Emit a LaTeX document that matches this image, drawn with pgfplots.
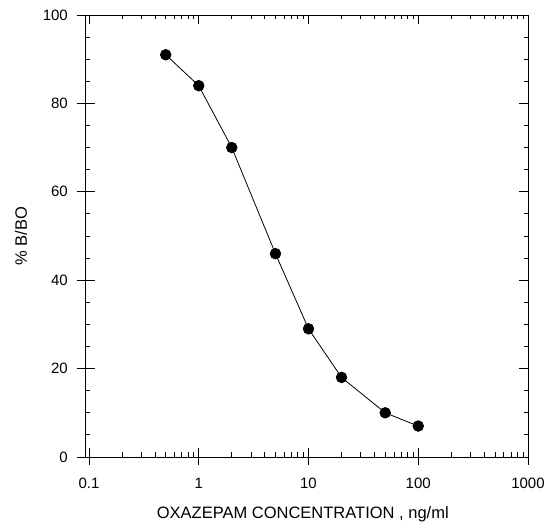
\documentclass[border=0pt]{standalone}
\usepackage{pgfplots}
\pgfplotsset{compat=1.18}
\usepackage{fontspec}
\setmainfont{Liberation Sans}
\begin{document}
\fontsize{15pt}{18pt}\selectfont
\begin{tikzpicture}
\path[use as bounding box] (-89pt,-70pt) rectangle (458pt,457pt);
% x range box: top, bottom and right lines, inward ticks, data
\begin{semilogxaxis}[
  at={(0pt,0pt)}, anchor=south west,
  width=439pt, height=442pt, scale only axis,
  xmin=0.1, xmax=1000, ymin=0, ymax=100,
  ytick={0,20,...,100},
  minor y tick num=3,
  axis x line*=box, axis y line*=right,
  tick align=inside,
  major tick length=9pt, minor tick length=4.5pt,
  xticklabels={}, yticklabels={},
  axis line style={line width=0.9pt, -},
  every tick/.style={black, line width=0.8pt},
  clip=false,
]
\addplot[black, line width=0.8pt, mark=*, mark size=5.3pt] coordinates {
  (0.5,91) (1,84) (2,70) (5,46) (10,29) (20,18) (50,10) (100,7)
};
\end{semilogxaxis}
% outward part of bottom major ticks, labels
\begin{semilogxaxis}[
  at={(0pt,0pt)}, anchor=south west,
  width=439pt, height=442pt, scale only axis,
  xmin=0.1, xmax=1000, ymin=0, ymax=100,
  xtick={0.1,1,10,100,1000},
  xticklabels={0.1,1,10,100,1000},
  axis x line*=bottom, axis y line=none,
  tick align=outside, major tick length=8pt,
  minor x tick num=0, minor tick length=0pt,
  axis line style={draw=none},
  every tick/.style={black, line width=0.8pt},
  xticklabel style={anchor=north, inner sep=0pt},
  xticklabel shift=13pt,
  xlabel={OXAZEPAM CONCENTRATION , ng/ml},
  xlabel style={at={(axis description cs:0.487,-0.129)}, anchor=center,
    font=\fontsize{16.5pt}{19pt}\selectfont},
]
\end{semilogxaxis}
% left y axis, a little apart from the x range
\begin{axis}[
  at={(-4pt,0pt)}, anchor=south west,
  width=439pt, height=442pt, scale only axis,
  xmin=0, xmax=1, ymin=0, ymax=100,
  ytick={0,20,...,100},
  minor y tick num=3,
  axis y line*=left, axis x line=none,
  tick align=inside,
  major tick length=10pt, minor tick length=5pt,
  yticklabels={},
  axis line style={line width=0.9pt, -},
  every tick/.style={black, line width=0.8pt},
]
\end{axis}
\begin{axis}[
  at={(-4pt,0pt)}, anchor=south west,
  width=439pt, height=442pt, scale only axis,
  xmin=0, xmax=1, ymin=0, ymax=100,
  ytick={0,20,...,100},
  axis y line*=left, axis x line=none,
  tick align=outside, major tick length=8pt,
  minor tick length=0pt,
  axis line style={draw=none},
  every tick/.style={black, line width=0.8pt},
  /pgf/number format/assume math mode=true,
  yticklabel style={anchor=east, inner sep=0pt},
  yticklabel shift=9pt,
  ylabel={\% B/BO},
  ylabel style={at={(axis description cs:-0.1458,0.5)}, anchor=center,
    font=\fontsize{16.5pt}{19pt}\selectfont},
]
\end{axis}
\end{tikzpicture}
\end{document}
